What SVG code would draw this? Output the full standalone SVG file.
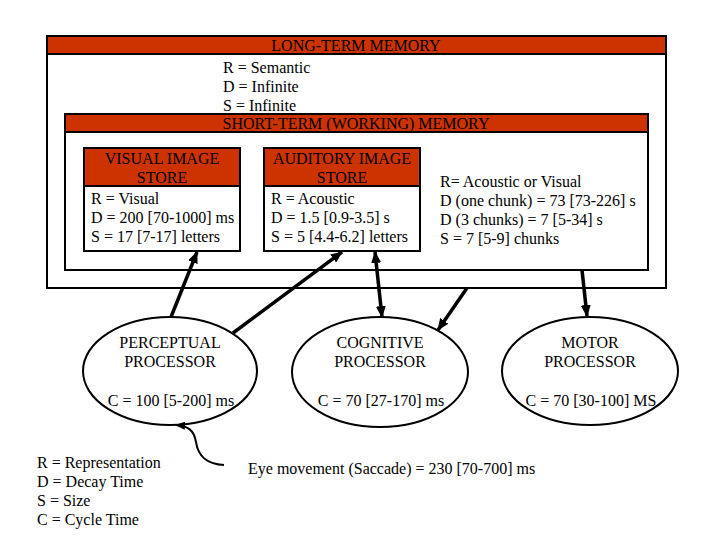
<svg xmlns="http://www.w3.org/2000/svg" width="720" height="540" viewBox="0 0 720 540" font-family="'Liberation Serif', 'Times New Roman', Times, serif">
<defs>
<style>
text{font-family:'Liberation Serif','Times New Roman',Times,serif;font-size:16px;fill:#000}
.c{text-anchor:middle}
.hdr{fill:#CC3300;stroke:#000;stroke-width:2}
.box{fill:#fff;stroke:#000;stroke-width:2}
.ell{fill:#fff;stroke:#000;stroke-width:2}
.thick{fill:none;stroke:#000;stroke-width:3.5}
.thin{fill:none;stroke:#000;stroke-width:2}
</style>
<marker id="ah" markerUnits="userSpaceOnUse" markerWidth="12" markerHeight="10" refX="11" refY="5" orient="auto-start-reverse" viewBox="0 0 12 10">
<path d="M0,0 L12,5 L0,10 z" fill="#000"/>
</marker>
<marker id="ahs" markerUnits="userSpaceOnUse" markerWidth="10" markerHeight="8" refX="9" refY="4" orient="auto" viewBox="0 0 10 8">
<path d="M0,0 L10,4 L0,8 z" fill="#000"/>
</marker>
</defs>
<rect width="720" height="540" fill="#fff"/>

<g id="ltm">
<rect class="box" x="47" y="36" width="619" height="252"/>
<rect class="hdr" x="47" y="36" width="619" height="18"/>
<text class="c" x="356" y="51">LONG-TERM MEMORY</text>
<text x="223" y="73">R = Semantic</text>
<text x="223" y="92">D = Infinite</text>
<text x="223" y="111">S = Infinite</text>
</g>

<g id="stm">
<rect class="box" x="65" y="114" width="583" height="156"/>
<rect class="hdr" x="65" y="114" width="583" height="18"/>
<text class="c" x="356" y="129">SHORT-TERM (WORKING) MEMORY</text>
<text x="440" y="187">R= Acoustic or Visual</text>
<text x="440" y="206">D (one chunk) = 73 [73-226] s</text>
<text x="440" y="225">D (3 chunks) = 7 [5-34] s</text>
<text x="440" y="244">S = 7 [5-9] chunks</text>
</g>

<g id="visual-store">
<rect class="box" x="84" y="148" width="156" height="103"/>
<rect class="hdr" x="84" y="148" width="156" height="38"/>
<text class="c" x="162" y="164">VISUAL IMAGE</text>
<text class="c" x="162" y="183">STORE</text>
<text x="91" y="204">R = Visual</text>
<text x="91" y="223">D = 200 [70-1000] ms</text>
<text x="91" y="242">S = 17 [7-17] letters</text>
</g>

<g id="auditory-store">
<rect class="box" x="264" y="148" width="156" height="103"/>
<rect class="hdr" x="264" y="148" width="156" height="38"/>
<text class="c" x="342" y="164">AUDITORY IMAGE</text>
<text class="c" x="342" y="183">STORE</text>
<text x="271" y="204">R = Acoustic</text>
<text x="271" y="223">D = 1.5 [0.9-3.5] s</text>
<text x="271" y="242">S = 5 [4.4-6.2] letters</text>
</g>

<g id="perceptual">
<ellipse class="ell" cx="170" cy="371" rx="87" ry="54"/>
<text class="c" x="170" y="348">PERCEPTUAL</text>
<text class="c" x="170" y="367">PROCESSOR</text>
<text class="c" x="171" y="406">C = 100 [5-200] ms</text>
</g>

<g id="cognitive">
<ellipse class="ell" cx="380" cy="372" rx="88" ry="55"/>
<text class="c" x="380" y="348">COGNITIVE</text>
<text class="c" x="380" y="367">PROCESSOR</text>
<text class="c" x="381" y="406">C = 70 [27-170] ms</text>
</g>

<g id="motor">
<ellipse class="ell" cx="590" cy="371" rx="88" ry="54"/>
<text class="c" x="590" y="348">MOTOR</text>
<text class="c" x="590" y="367">PROCESSOR</text>
<text class="c" x="591" y="406">C = 70 [30-100] MS</text>
</g>

<g id="legend">
<text x="37" y="468">R = Representation</text>
<text x="37" y="487">D = Decay Time</text>
<text x="37" y="506">S = Size</text>
<text x="37" y="525">C = Cycle Time</text>
</g>

<g id="eye-label">
<text x="248" y="474">Eye movement (Saccade) = 230 [70-700] ms</text>
</g>

<g id="connectors">
<line class="thick" x1="171" y1="317" x2="197" y2="252" marker-end="url(#ah)"/>
<line class="thick" x1="233" y1="333" x2="342" y2="252" marker-end="url(#ah)"/>
<line class="thick" x1="375" y1="252" x2="382" y2="317" marker-start="url(#ah)" marker-end="url(#ah)"/>
<line class="thick" x1="467" y1="288" x2="438" y2="330" marker-end="url(#ah)"/>
<line class="thick" x1="582" y1="270" x2="587" y2="316" marker-end="url(#ah)"/>
<path class="thin" d="M224,465 C205,464 198,455 196,442 C194,430 188,426 176,425" marker-end="url(#ahs)"/>
</g>
</svg>
